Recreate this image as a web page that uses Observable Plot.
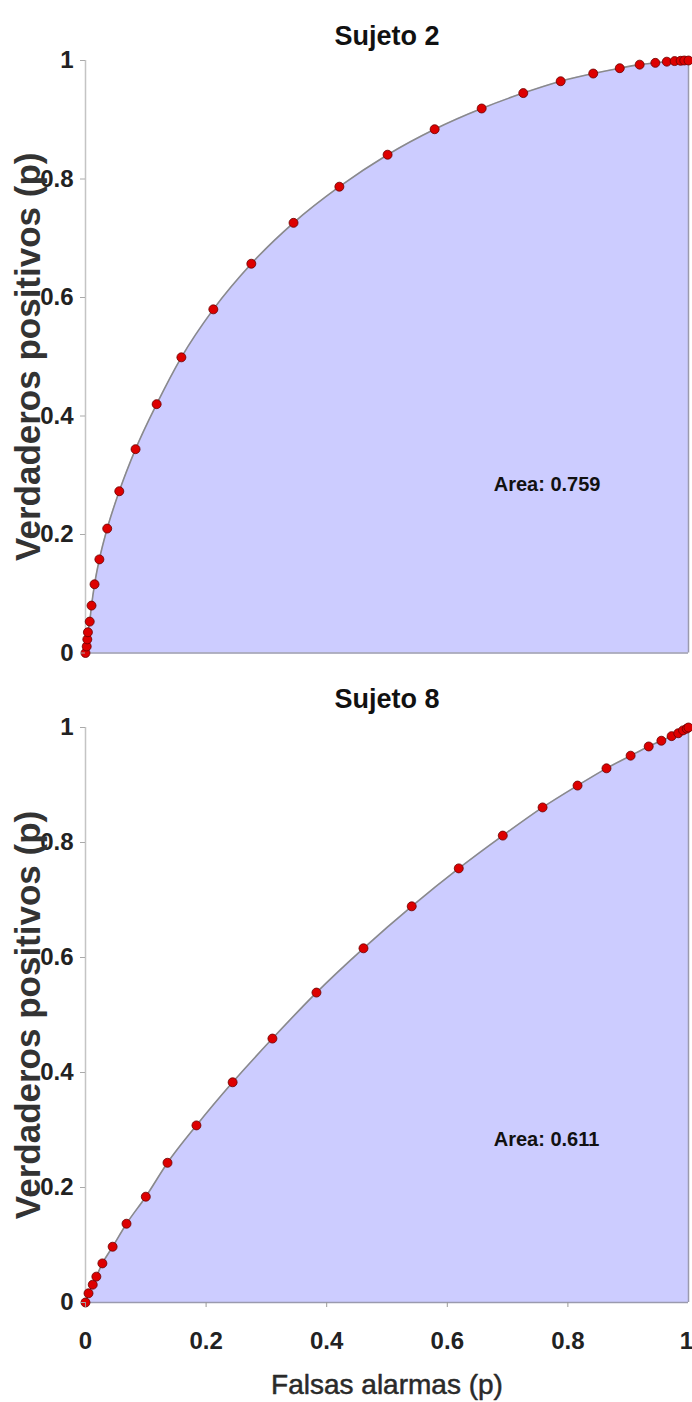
<!DOCTYPE html>
<html><head><meta charset="utf-8">
<script src="https://cdn.jsdelivr.net/npm/d3@7"></script>
<script src="https://cdn.jsdelivr.net/npm/@observablehq/plot@0.6"></script>
<style>body{margin:0;background:#fff;} svg{display:block;}</style>
</head><body><div id="chart"></div>
<script>
// Sujeto 2
const falsasAlarmas2 = [0, 0.002, 0.003, 0.004, 0.007, 0.010, 0.015, 0.023, 0.036, 0.056, 0.083, 0.118, 0.159, 0.212, 0.275, 0.345, 0.421, 0.501, 0.579, 0.657, 0.726, 0.788, 0.842, 0.886, 0.919, 0.945, 0.964, 0.977, 0.987, 0.993, 1];
const verdaderosPositivos2 = [0, 0.011, 0.023, 0.035, 0.053, 0.080, 0.116, 0.158, 0.210, 0.273, 0.344, 0.420, 0.499, 0.580, 0.657, 0.726, 0.787, 0.841, 0.884, 0.919, 0.945, 0.965, 0.978, 0.987, 0.993, 0.996, 0.998, 0.999, 0.9995, 1, 1];
// Sujeto 8
const falsasAlarmas8 = [0, 0.005, 0.012, 0.018, 0.028, 0.045, 0.068, 0.100, 0.136, 0.184, 0.244, 0.310, 0.383, 0.461, 0.541, 0.619, 0.692, 0.758, 0.816, 0.864, 0.904, 0.934, 0.955, 0.972, 0.983, 0.991, 0.997, 1];
const verdaderosPositivos8 = [0, 0.016, 0.031, 0.045, 0.068, 0.097, 0.137, 0.184, 0.243, 0.308, 0.383, 0.459, 0.539, 0.616, 0.689, 0.755, 0.812, 0.861, 0.899, 0.929, 0.951, 0.967, 0.977, 0.985, 0.990, 0.995, 0.998, 1];

const titulos = ["Sujeto 2", "Sujeto 8"];
const etiquetasArea = ["Area: 0.759", "Area: 0.611"];
const tituloY = "Verdaderos positivos (p)";
const tituloX = "Falsas alarmas (p)";
const xTicks = [0, 0.2, 0.4, 0.6, 0.8, 1];
const yTicks = [0, 0.2, 0.4, 0.6, 0.8, 1];

const FONT = "'Liberation Sans', Arial, sans-serif";

function panel(fa, vp, title, areaLabel, o) {
  const data = fa.map((x, i) => ({x, y: vp[i]}));
  const marks = [
    Plot.areaY(data, {x: "x", y: "y", fill: "#ccccff", curve: "monotone-x"}),
    Plot.ruleX([1], {stroke: "#9a9aae", strokeWidth: 1.5}),
    Plot.ruleY([0], {stroke: "#9a9aae", strokeWidth: 1.5}),
    Plot.ruleX([0], {stroke: "#c4c4c4", strokeWidth: 1.5}),
    Plot.lineY(data, {x: "x", y: "y", stroke: "#8a8a8a", strokeWidth: 1.6, curve: "monotone-x"}),
    Plot.dot(data, {x: "x", y: "y", r: 4.5, fill: "#dd0000", stroke: "#6a0000", strokeWidth: 0.8}),
    Plot.axisY({ticks: yTicks, tickFormat: d => String(d), tickSize: 5, tickPadding: 7,
      stroke: "#aaa", fill: "#222", fontSize: 24, fontWeight: "bold", label: null}),
    Plot.text([title], {frameAnchor: "top", dy: o.titleDy, fontSize: 27, fontWeight: "bold", fill: "#111", lineAnchor: "middle"}),
    Plot.text([tituloY], {frameAnchor: "left", dx: -57, rotate: -90, textAnchor: "middle", lineAnchor: "middle",
      fontSize: 35, fontWeight: "bold", fill: "#333"}),
    Plot.text([{x: 0.677, y: 0.284, t: areaLabel}], {x: "x", y: "y", text: "t", textAnchor: "start", fontSize: 20, fontWeight: "bold", fill: "#111"})
  ];
  if (o.xAxis) {
    marks.push(Plot.axisX({ticks: xTicks.slice(0, -1), tickFormat: d => String(d), tickSize: 5, tickPadding: 24,
      stroke: "#999", fill: "#222", fontSize: 24, fontWeight: "bold", label: null}));
    marks.push(Plot.text([{x: xTicks[xTicks.length - 1], t: String(xTicks[xTicks.length - 1])}],
      {x: "x", text: "t", frameAnchor: "bottom", dy: 29, dx: -2, lineAnchor: "top", fontSize: 24, fontWeight: "bold", fill: "#222"}));
    marks.push(Plot.text([tituloX], {frameAnchor: "bottom", dy: 83, fontSize: 28, fill: "#2a2a2a",
      stroke: "#2a2a2a", strokeWidth: 0.5, lineAnchor: "middle"}));
  }
  return Plot.plot({
    width: 692,
    height: o.height,
    marginTop: o.mt,
    marginBottom: o.mb,
    marginLeft: 85,
    marginRight: 4,
    style: {fontFamily: FONT, background: "#fff", overflow: "visible"},
    x: {domain: [0, 1], axis: o.xAxis ? undefined : null},
    y: {domain: [0, 1]},
    marks
  });
}

const chart = document.getElementById("chart");
chart.appendChild(panel(falsasAlarmas2, verdaderosPositivos2, titulos[0], etiquetasArea[0],
  {height: 680, mt: 60, mb: 27.5, titleDy: -24, xAxis: false}));
chart.appendChild(panel(falsasAlarmas8, verdaderosPositivos8, titulos[1], etiquetasArea[1],
  {height: 722, mt: 47, mb: 100, titleDy: -28, xAxis: true}));
</script>
</body></html>
